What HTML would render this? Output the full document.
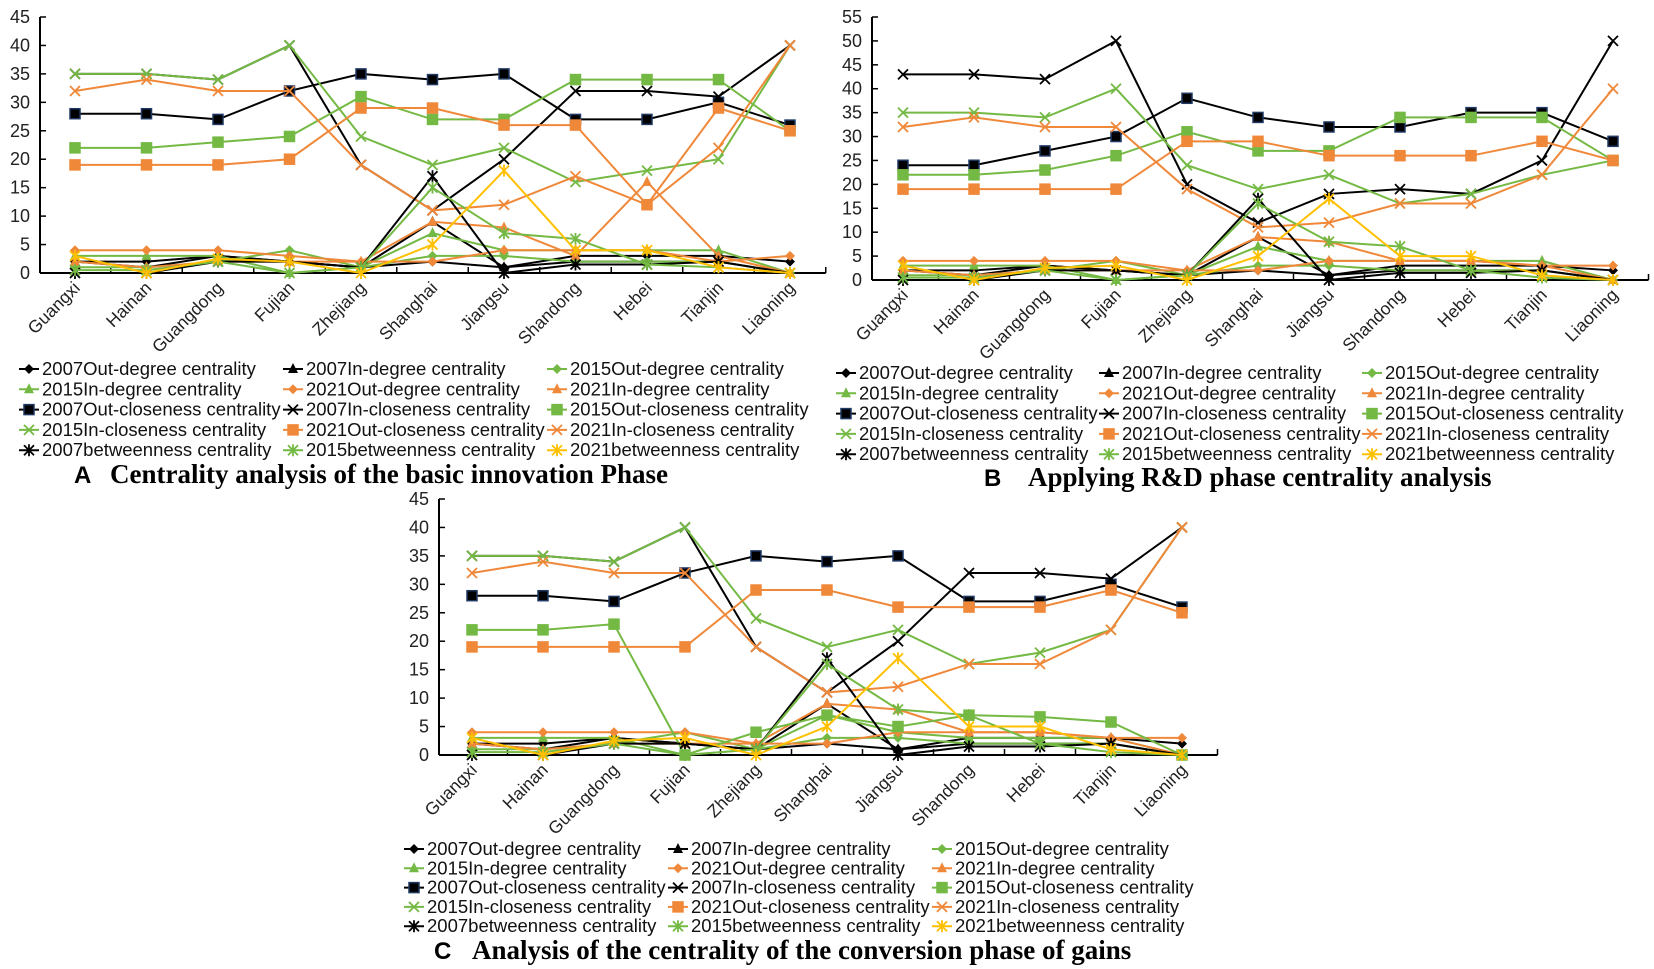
<!DOCTYPE html>
<html><head><meta charset="utf-8"><style>
body{margin:0;background:#fff;}
svg{display:block;font-family:"Liberation Sans",sans-serif;}
.cap{font-family:"Liberation Serif",serif;font-weight:bold;font-size:27px;}
.capL{font-family:"Liberation Sans",sans-serif;font-weight:bold;font-size:24px;}
</style></head><body>
<svg id="fig" width="1654" height="969" viewBox="0 0 1654 969">
<text class="capL" x="74" y="483">A</text>
<text class="cap" x="110" y="483">Centrality analysis of the basic innovation Phase</text>
<text class="capL" x="984" y="486">B</text>
<text class="cap" x="1028" y="486">Applying R&amp;D phase centrality analysis</text>
<text class="capL" x="434" y="959">C</text>
<text class="cap" x="472" y="959">Analysis of the centrality of the conversion phase of gains</text>
</svg>
<script>
const categories=["Guangxi","Hainan","Guangdong","Fujian","Zhejiang","Shanghai","Jiangsu","Shandong","Hebei","Tianjin","Liaoning"];
const seriesNames=["2007Out-degree centrality","2007In-degree centrality","2015Out-degree centrality","2015In-degree centrality","2021Out-degree centrality","2021In-degree centrality","2007Out-closeness centrality","2007In-closeness centrality","2015Out-closeness centrality","2015In-closeness centrality","2021Out-closeness centrality","2021In-closeness centrality","2007betweenness centrality","2015betweenness centrality","2021betweenness centrality"];
const ticksA=[0,5,10,15,20,25,30,35,40,45];
const ticksB=[0,5,10,15,20,25,30,35,40,45,50,55];
const ticksC=[0,5,10,15,20,25,30,35,40,45];
const valuesA=[
[2,2,3,2,1,2,1,3,3,3,2],
[2,1,3,2,1,9,1,2,2,2,0],
[1,1,2,4,1,3,3,2,2,2,0],
[3,3,3,0,1,7,4,4,4,4,0],
[4,4,4,3,2,2,4,4,4,2,3],
[2,1,2,2,2,9,8,3,16,3,0],
[28,28,27,32,35,34,35,27,27,30,26],
[35,35,34,40,19,11,20,32,32,31,40],
[22,22,23,24,31,27,27,34,34,34,25],
[35,35,34,40,24,19,22,16,18,20,40],
[19,19,19,20,29,29,26,26,12,29,25],
[32,34,32,32,19,11,12,17,12,22,40],
[0,0,2,2,1,17,0,1.5,1.5,2,0],
[0.5,0.5,2,0,1,15,7,6,1.5,1,0],
[3,0,2.5,2,0,5,18,4,4,1,0]];
const valuesB=[
[2,2,3,2,1,2,1,3,3,3,2],
[2,1,3,2,1,9,1,2,2,2,0],
[1,1,2,4,1,3,3,2,2,2,0],
[3,3,3,0,1,7,4,4,4,4,0],
[4,4,4,4,2,2,4,4,4,3,3],
[2,1,2,2,2,9,8,4,4,3,0],
[24,24,27,30,38,34,32,32,35,35,29],
[43,43,42,50,20,12,18,19,18,25,50],
[22,22,23,26,31,27,27,34,34,34,25],
[35,35,34,40,24,19,22,16,18,22,25],
[19,19,19,19,29,29,26,26,26,29,25],
[32,34,32,32,19,11,12,16,16,22,40],
[0,0,2,2,1,17,0,1.5,1.5,2,0],
[0.5,0.5,2,0,1,16,8,7,2,0.5,0],
[3,0,2.5,3,0,5,17,5,5,1,0]];
const valuesC=[
[2,2,3,2,1,2,1,3,3,3,2],
[2,1,3,2,1,9,1,2,2,2,0],
[1,1,2,4,1,3,3,2,2,2,0],
[3,3,3,0,1,7,4,3,3,3,0],
[4,4,4,4,2,2,4,4,4,3,3],
[2,1,2,2,2,9,8,4,4,3,0],
[28,28,27,32,35,34,35,27,27,30,26],
[35,35,34,40,19,11,20,32,32,31,40],
[22,22,23,0,4,7,5,7,6.7,5.8,0],
[35,35,34,40,24,19,22,16,18,22,40],
[19,19,19,19,29,29,26,26,26,29,25],
[32,34,32,32,19,11,12,16,16,22,40],
[0,0,2,2,1,17,0,1.5,1.5,2,0],
[0.5,0.5,2,0,1,16,8,7,2,0.5,0],
[3,0,2.5,3,0,5,17,5,5,1,0]];
const K="#000",G="#74b944",O="#f0883a",Y="#ffc000";
const colors=[K,K,G,G,O,O,K,K,G,G,O,O,K,G,Y];
const markers=["d","t","d","t","d","t","s","x","s","x","s","x","a","a","a"];
const NS="http://www.w3.org/2000/svg";
const svg=document.getElementById("fig");
function mk(tag,attrs,parent){const e=document.createElementNS(NS,tag);for(const k in attrs)e.setAttribute(k,attrs[k]);(parent||svg).appendChild(e);return e;}
function marker(g,type,x,y,c){
  let e;
  if(type==="d"){e=mk("path",{d:`M${x} ${y-5}L${x+5} ${y}L${x} ${y+5}L${x-5} ${y}Z`,fill:c},g);}
  else if(type==="t"){e=mk("path",{d:`M${x} ${y-6}L${x+5} ${y+4}L${x-5} ${y+4}Z`,fill:c},g);}
  else if(type==="s"){e=mk("rect",{x:x-5,y:y-5,width:10,height:10,fill:c,stroke:c===K?"#1f3864":c,"stroke-width":1.5},g);}
  else if(type==="x"){e=mk("path",{d:`M${x-5} ${y-5}L${x+5} ${y+5}M${x+5} ${y-5}L${x-5} ${y+5}`,stroke:c,"stroke-width":1.8,fill:"none"},g);}
  else {e=mk("path",{d:`M${x-5} ${y-5}L${x+5} ${y+5}M${x+5} ${y-5}L${x-5} ${y+5}M${x} ${y-6}L${x} ${y+6}`,stroke:c,"stroke-width":1.8,fill:"none"},g);}
  return e;
}
function panel(id,vals,ticks,ax,x0,dx,yBot,yTop,legX,legY,legDx,legDy){
  const maxV=ticks[ticks.length-1];
  const X=i=>x0+i*dx, Yf=v=>yBot-(v/maxV)*(yBot-yTop);
  const g=mk("g",{});
  
  
  const right=X(categories.length-1)+dx/2;
  const yl=mk("line",{x1:ax,y1:yTop,x2:ax,y2:yBot,stroke:"#000","stroke-width":2},g);
  
  
  const xl=mk("line",{x1:ax,y1:yBot,x2:right,y2:yBot,stroke:"#000","stroke-width":2},g);
  
  
  ticks.forEach(t=>{
    mk("line",{x1:ax,y1:Yf(t),x2:ax+6,y2:Yf(t),stroke:"#000","stroke-width":1.5},g);
    const tx=mk("text",{x:ax-10,y:Yf(t)+6,"text-anchor":"end","font-size":18,fill:"#222"},g);
    tx.textContent=t;
    
    
  });
  for(let i=0;i<=categories.length;i++){
    const xx=X(i)-dx/2; if(xx>ax) mk("line",{x1:xx,y1:yBot,x2:xx,y2:yBot-6,stroke:"#000","stroke-width":1.5},g);
  }
  categories.forEach((c,i)=>{
    const tx=mk("text",{x:0,y:0,"text-anchor":"end","font-size":17.5,fill:"#222",transform:`translate(${X(i)+6},${yBot+16}) rotate(-45)`},g);
    tx.textContent=c;
    
    
  });
  vals.forEach((row,s)=>{
    const sg=mk("g",{},g);
    
    
    const pts=row.map((v,i)=>X(i)+","+Yf(v)).join(" ");
    mk("polyline",{points:pts,fill:"none",stroke:colors[s],"stroke-width":2},sg);
    row.forEach((v,i)=>{
      const m=marker(sg,markers[s],X(i),Yf(v),colors[s]);
      
      
    });
  });
  seriesNames.forEach((n,s)=>{
    const col=s%3,row=Math.floor(s/3);
    const lx=legX+col*legDx, ly=legY+row*legDy;
    const lg=mk("g",{},svg);
    
    
    mk("line",{x1:lx,y1:ly,x2:lx+20,y2:ly,stroke:colors[s],"stroke-width":2},lg);
    marker(lg,markers[s],lx+10,ly,colors[s]);
    const t=mk("text",{x:lx+23,y:ly+6,"font-size":18.5,fill:"#111"},lg);
    t.textContent=n;
  });
}
panel("panel-a",valuesA,ticksA,40,75,71.5,273,17,19,369,264,20.3);
panel("panel-b",valuesB,ticksB,872,903,71,280,17,836,373,263,20.3);
panel("panel-c",valuesC,ticksC,439,472,71,755,499,404,849,264,19.3);
</script>
</body></html>
